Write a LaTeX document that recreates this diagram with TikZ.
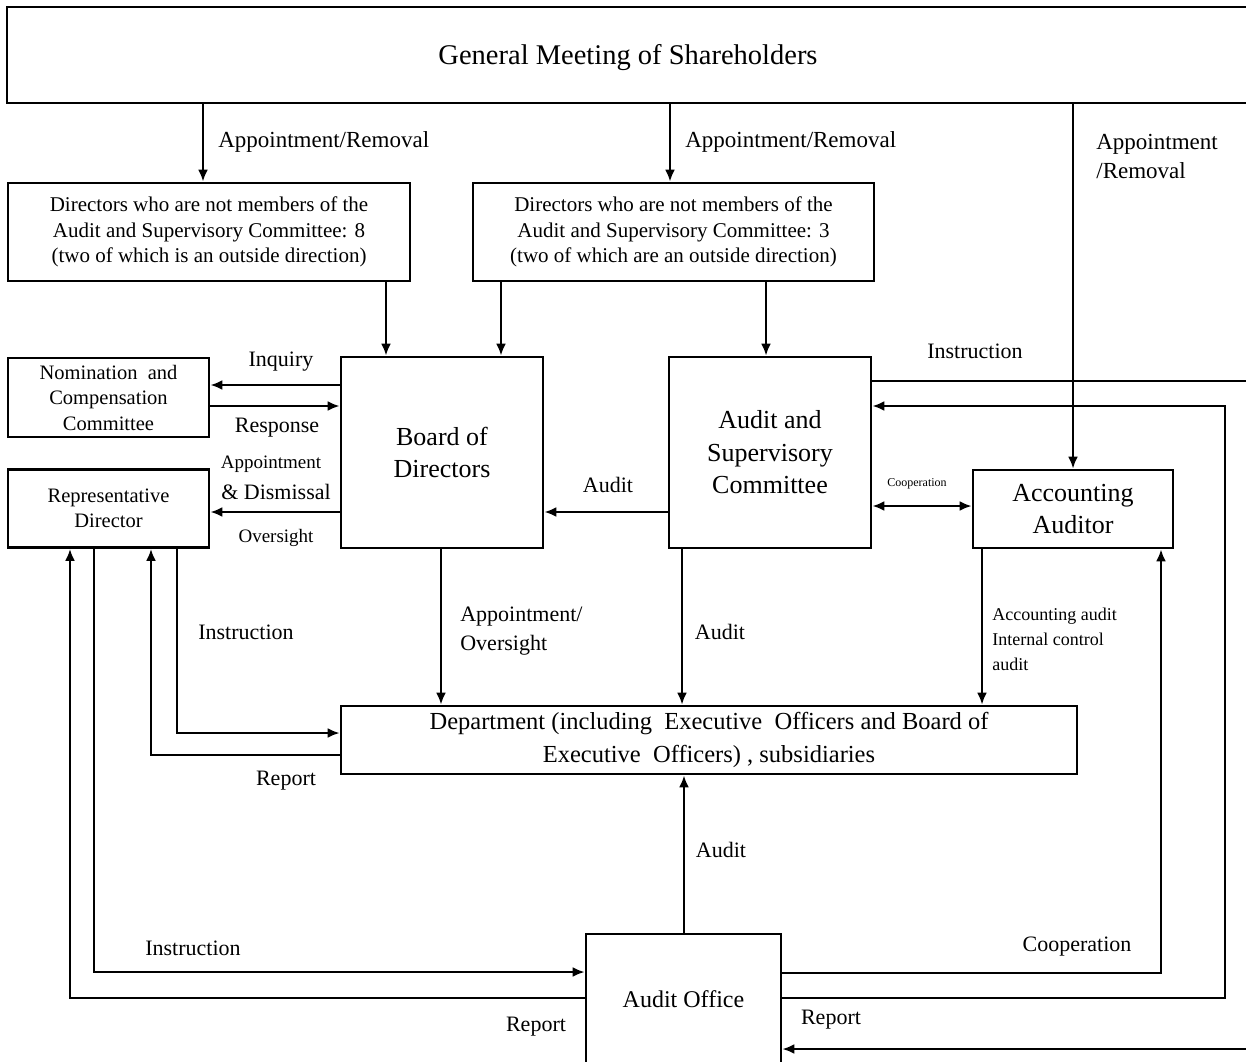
\documentclass[tikz,border=0pt]{standalone}
\usepackage{fontspec}
\setmainfont{Liberation Serif}
\usetikzlibrary{arrows.meta}
\tikzstyle{every path}=[line width=2.7pt, line join=miter]
\tikzstyle{box}=[draw, rectangle, inner sep=0pt, align=center]
\tikzstyle{lbl}=[inner sep=0pt, align=center, font=\fontsize{22}{29}\selectfont]
\tikzstyle{arr}=[-{Latex[length=12pt,width=10pt]}]
\tikzstyle{darr}=[{Latex[length=12pt,width=10pt]}-{Latex[length=12pt,width=10pt]}]

\begin{document}
\begin{tikzpicture}[x=1pt,y=-1pt]
        \useasboundingbox (0,0) rectangle (1246,1061);
        %shareholders
        \node[box, minimum width=1242, minimum height=96, font=\fontsize{28.5}{32}\selectfont, text depth=2pt] (gm) at (628,55) {General Meeting of Shareholders};
        %directors
        \node[box, minimum width=402, minimum height=98, font=\fontsize{21}{25.5}\selectfont] (dira) at (209,232) {Directors who are not members of the\\Audit and Supervisory Committee: 8\\(two of which is an outside direction)};
        \node[box, minimum width=401, minimum height=98, font=\fontsize{21}{25.5}\selectfont] (dirb) at (673.5,232) {Directors who are not members of the\\Audit and Supervisory Committee: 3\\(two of which are an outside direction)};
        %board and committee
        \node[box, minimum width=202, minimum height=191, font=\fontsize{26}{32}\selectfont] (bod) at (442,452.5) {Board of\\Directors};
        \node[box, minimum width=202, minimum height=191, font=\fontsize{26}{32.5}\selectfont] (asc) at (770,452.5) {Audit and\\Supervisory\\Committee};
        \node[box, minimum width=201, minimum height=79, font=\fontsize{20.5}{25.5}\selectfont] (nom) at (108.5,397.5) {Nomination~~and\\Compensation\\Committee};
        \node[box, minimum width=201, minimum height=78, font=\fontsize{20.5}{25}\selectfont] (rep) at (108.5,508.5) {Representative\\Director};
        \node[box, minimum width=200, minimum height=78, font=\fontsize{26}{32}\selectfont] (acc) at (1073,509) {Accounting\\Auditor};
        %department and audit office
        \node[box, minimum width=736, minimum height=68, font=\fontsize{24.5}{33}\selectfont] (dept) at (709,740) {Department (including~ Executive~ Officers and Board of\\Executive~ Officers) , subsidiaries};
        \node[box, minimum width=195, minimum height=130, font=\fontsize{24}{28}\selectfont] (office) at (683.5,999) {Audit Office};
        %appointment from shareholders
        \draw[arr] ([xshift=-6]dira.north |- gm.south) -- ([xshift=-6]dira.north);
        \draw[arr] ([xshift=-3.5]dirb.north |- gm.south) -- ([xshift=-3.5]dirb.north);
        \draw[arr] (acc.north |- gm.south) -- (acc.north);
        \node[lbl, anchor=west, font=\fontsize{23}{29}\selectfont] (ar1) at (217,142) {Appointment/Removal};
        \node[lbl, anchor=west, font=\fontsize{23}{29}\selectfont] (ar2) at (684,142) {Appointment/Removal};
        \node[lbl, anchor=west, align=left, font=\fontsize{23}{29}\selectfont] (ar3) at (1095,156.5) {Appointment\\/Removal};
        %directors to board
        \draw[arr] ([xshift=-56]bod.north |- dira.south) -- ([xshift=-56]bod.north);
        \draw[arr] ([xshift=59]bod.north |- dirb.south) -- ([xshift=59]bod.north);
        \draw[arr] ([xshift=-4]asc.north |- dirb.south) -- ([xshift=-4]asc.north);
        %nomination committee
        \draw[arr] (bod.west |- 0,385) -- (nom.east |- 0,385);
        \draw[arr] (nom.east |- 0,406) -- (bod.west |- 0,406);
        \node[lbl] (inq) at (281,362) {Inquiry};
        \node[lbl] (resp) at (277,428) {Response};
        %representative director
        \draw[arr] (bod.west |- 0,512) -- (rep.east |- 0,512);
        \node[lbl, font=\fontsize{19}{22}\selectfont] (appd) at (271,464) {Appointment};
        \node[lbl] (dism) at (276,492) {\& Dismissal};
        \node[lbl, font=\fontsize{19}{22}\selectfont] (ovs) at (276,538) {Oversight};
        %committee to board
        \draw[arr] (asc.west |- 0,512) -- (bod.east |- 0,512);
        \node[lbl] (aud1) at (608,485) {Audit};
        \draw[darr] (asc.east |- 0,506) -- (acc.west |- 0,506);
        \node[lbl, font=\fontsize{12}{14}\selectfont] (coop1) at (917,484) {Cooperation};
        %instruction to audit office
        \coordinate (outa) at (1262,381);
        \coordinate (outb) at (1262,1049);
        \draw[arr] (asc.east |- outa) -- (outa) -- (outb) -- (office.east |- outb);
        \node[lbl] (ins1) at (975,351) {Instruction};
        %report to committee
        \draw[arr] (office.east |- 0,998) -- (1225,998) |- (asc.east |- 0,406);
        \node[lbl] (rep1) at (831,1020) {Report};
        %cooperation with auditor
        \draw[arr] (office.east |- 0,973) -| (acc.south -| 1161,0);
        \node[lbl] (coop2) at (1077,947) {Cooperation};
        %audits to department
        \draw[arr] (acc.south -| 982,0) -- (dept.north -| 982,0);
        \node[lbl, anchor=west, align=left, font=\fontsize{18}{25}\selectfont] (acca) at (991,639) {Accounting audit\\Internal control\\audit};
        \draw[arr] (bod.south -| 441,0) -- (dept.north -| 441,0);
        \node[lbl, anchor=west, align=left] (apo) at (459,631.5) {Appointment/\\Oversight};
        \draw[arr] (asc.south -| 682,0) -- (dept.north -| 682,0);
        \node[lbl] (aud2) at (720,632) {Audit};
        \draw[arr] (office.north -| 684,0) -- (dept.south -| 684,0);
        \node[lbl] (aud3) at (721,850) {Audit};
        %representative and department
        \draw[arr] (rep.south -| 177,0) |- (dept.west |- 0,733);
        \node[lbl] (ins2) at (246,632) {Instruction};
        \draw[arr] (dept.west |- 0,755) -| (rep.south -| 151,0);
        \node[lbl] (rep2) at (286,781) {Report};
        %representative and audit office
        \draw[arr] (rep.south -| 94,0) |- (office.west |- 0,972);
        \node[lbl] (ins3) at (193,948) {Instruction};
        \draw[arr] (office.west |- 0,998) -| (rep.south -| 70,0);
        \node[lbl] (rep3) at (536,1027) {Report};
\end{tikzpicture}
\end{document}
